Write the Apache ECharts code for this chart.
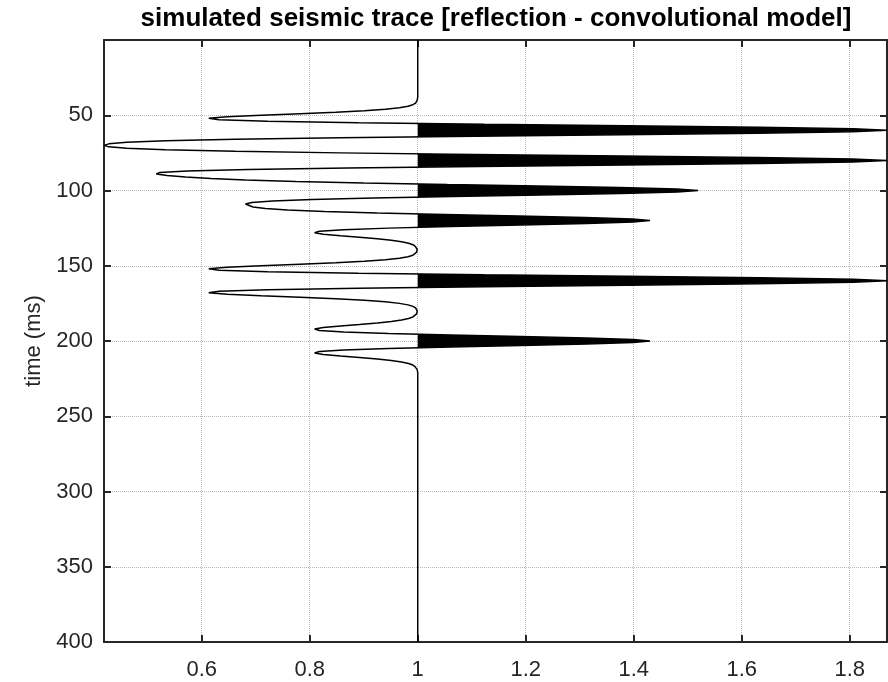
<!DOCTYPE html>
<html>
<head>
<meta charset="utf-8">
<title>simulated seismic trace</title>
<script src="https://cdn.jsdelivr.net/npm/echarts@6/dist/echarts.min.js"></script>
<style>
  html, body { margin: 0; padding: 0; background: #fff; }
  #chart { width: 888px; height: 682px; }
</style>
</head>
<body>
<div id="chart"></div>
<script>
// time samples (ms) and trace amplitude
var times = [0,
    36, 37, 38, 39, 40, 41, 42, 43, 44, 45, 46, 47, 48, 49, 50, 51, 52, 53, 54, 55,
    56, 57, 58, 59, 60, 61, 62, 63, 64, 65, 66, 67, 68, 69, 70, 71, 72, 73, 74, 75,
    76, 77, 78, 79, 80, 81, 82, 83, 84, 85, 86, 87, 88, 89, 90, 91, 92, 93, 94, 95,
    96, 97, 98, 99, 100, 101, 102, 103, 104, 105, 106, 107, 108, 109, 110, 111, 112, 113, 114, 115,
    116, 117, 118, 119, 120, 121, 122, 123, 124, 125, 126, 127, 128, 129, 130, 131, 132, 133, 134, 135,
    136, 137, 138, 139, 140, 141, 142, 143, 144, 145, 146, 147, 148, 149, 150, 151, 152, 153, 154, 155,
    156, 157, 158, 159, 160, 161, 162, 163, 164, 165, 166, 167, 168, 169, 170, 171, 172, 173, 174, 175,
    176, 177, 178, 179, 180, 181, 182, 183, 184, 185, 186, 187, 188, 189, 190, 191, 192, 193, 194, 195,
    196, 197, 198, 199, 200, 201, 202, 203, 204, 205, 206, 207, 208, 209, 210, 211, 212, 213, 214, 215,
    216, 217, 218, 219, 220, 221, 222,
    400];
var amplitude = [1.000,
    1.000, 1.000, 1.000, 1.000, 0.999, 0.998, 0.996, 0.991, 0.982, 0.966, 0.940, 0.901, 0.848, 0.782, 0.710, 0.647, 0.613, 0.632, 0.722, 0.890,
    1.123, 1.387, 1.633, 1.807, 1.869, 1.805, 1.628, 1.378, 1.105, 0.856, 0.662, 0.533, 0.461, 0.428, 0.419, 0.428, 0.461, 0.533, 0.662, 0.856,
    1.105, 1.378, 1.628, 1.805, 1.869, 1.805, 1.630, 1.382, 1.113, 0.870, 0.686, 0.573, 0.522, 0.516, 0.536, 0.570, 0.617, 0.681, 0.774, 0.900,
    1.055, 1.222, 1.374, 1.480, 1.519, 1.481, 1.376, 1.227, 1.065, 0.918, 0.804, 0.731, 0.693, 0.681, 0.683, 0.695, 0.718, 0.759, 0.827, 0.925,
    1.050, 1.186, 1.310, 1.398, 1.430, 1.399, 1.313, 1.191, 1.061, 0.946, 0.863, 0.818, 0.809, 0.825, 0.857, 0.892, 0.925, 0.951, 0.970, 0.983,
    0.991, 0.995, 0.998, 0.999, 0.999, 0.998, 0.996, 0.991, 0.982, 0.966, 0.940, 0.901, 0.848, 0.782, 0.710, 0.647, 0.613, 0.632, 0.722, 0.890,
    1.123, 1.387, 1.633, 1.807, 1.869, 1.807, 1.633, 1.387, 1.123, 0.890, 0.722, 0.632, 0.613, 0.647, 0.710, 0.782, 0.848, 0.901, 0.940, 0.966,
    0.982, 0.991, 0.996, 0.998, 0.999, 0.999, 0.998, 0.995, 0.991, 0.983, 0.970, 0.951, 0.925, 0.892, 0.857, 0.825, 0.809, 0.818, 0.863, 0.946,
    1.061, 1.191, 1.313, 1.399, 1.430, 1.399, 1.313, 1.191, 1.061, 0.946, 0.863, 0.818, 0.809, 0.825, 0.857, 0.892, 0.925, 0.951, 0.970, 0.983,
    0.991, 0.995, 0.998, 0.999, 1.000, 1.000, 1.000,
    1.000];
var xTicks = [0.6, 0.8, 1, 1.2, 1.4, 1.6, 1.8];
var baseline = 1;

var traceData = times.map(function (t, i) { return [amplitude[i], t]; });

var fontFamily = "'Liberation Sans', Arial, sans-serif";
var ink = '#262626';
var gridLine = { show: true, lineStyle: { color: '#b8b8b8', type: 'dotted', width: 1 } };

var chartDom = document.getElementById('chart');
var myChart = echarts.init(chartDom);

// polygon of the positive lobes (trace > baseline), filled black
function renderFill(params, api) {
    var pts = [api.coord([baseline, times[0]])];
    for (var i = 0; i < times.length; i++) {
        var v = amplitude[i];
        pts.push(api.coord([Math.max(v, baseline), times[i]]));
        if (i < times.length - 1) {
            var w = amplitude[i + 1];
            if ((v - baseline) * (w - baseline) < 0) {
                var f = (baseline - v) / (w - v);
                pts.push(api.coord([baseline, times[i] + f * (times[i + 1] - times[i])]));
            }
        }
    }
    pts.push(api.coord([baseline, times[times.length - 1]]));
    return {
        type: 'polygon',
        shape: { points: pts },
        style: { fill: '#000', stroke: null }
    };
}

var option = {
    animation: false,
    backgroundColor: '#fff',
    title: {
        text: 'simulated seismic trace [reflection - convolutional model]',
        left: 491,
        top: 1,
        textAlign: 'center',
        textStyle: { fontFamily: fontFamily, fontSize: 26, fontWeight: 'bold', color: '#000' }
    },
    grid: { left: 104, right: 1, top: 40, bottom: 40, containLabel: false },
    xAxis: [
        {
            type: 'value',
            min: 0.419,
            max: 1.869,
            position: 'bottom',
            axisLine: { show: true, onZero: false, lineStyle: { color: ink, width: 2 } },
            axisTick: { show: true, inside: true, length: 7, customValues: xTicks, lineStyle: { color: ink, width: 2 } },
            axisLabel: {
                customValues: xTicks,
                margin: 17,
                color: ink,
                fontFamily: fontFamily,
                fontSize: 22
            },
            splitLine: gridLine
        },
        {
            type: 'value',
            min: 0.419,
            max: 1.869,
            position: 'top',
            axisLine: { show: true, onZero: false, lineStyle: { color: ink, width: 2 } },
            axisTick: { show: true, inside: true, length: 7, customValues: xTicks, lineStyle: { color: ink, width: 2 } },
            axisLabel: { show: false },
            splitLine: { show: false }
        }
    ],
    yAxis: [
        {
            type: 'value',
            inverse: true,
            min: 0,
            max: 400,
            interval: 50,
            position: 'left',
            name: 'time (ms)',
            nameLocation: 'middle',
            nameGap: 57,
            nameRotate: 90,
            nameTextStyle: { color: ink, fontFamily: fontFamily, fontSize: 22 },
            axisLine: { show: true, onZero: false, lineStyle: { color: ink, width: 2 } },
            axisTick: { show: true, inside: true, length: 7, lineStyle: { color: ink, width: 2 } },
            axisLabel: {
                margin: 11,
                color: ink,
                fontFamily: fontFamily,
                fontSize: 22,
                formatter: function (v) { return v === 0 ? '' : String(v); }
            },
            splitLine: gridLine
        },
        {
            type: 'value',
            inverse: true,
            min: 0,
            max: 400,
            interval: 50,
            position: 'right',
            axisLine: { show: true, onZero: false, lineStyle: { color: ink, width: 2 } },
            axisTick: { show: true, inside: true, length: 7, lineStyle: { color: ink, width: 2 } },
            axisLabel: { show: false },
            splitLine: { show: false }
        }
    ],
    series: [
        {
            name: 'fill',
            type: 'custom',
            xAxisIndex: 0,
            yAxisIndex: 0,
            clip: true,
            silent: true,
            renderItem: renderFill,
            data: [[baseline, 0]],
            z: 2
        },
        {
            name: 'trace',
            type: 'line',
            xAxisIndex: 0,
            yAxisIndex: 0,
            data: traceData,
            showSymbol: false,
            smooth: false,
            clip: true,
            lineStyle: { color: '#000', width: 1.5 },
            z: 3
        }
    ]
};
myChart.setOption(option);
</script>
</body>
</html>
